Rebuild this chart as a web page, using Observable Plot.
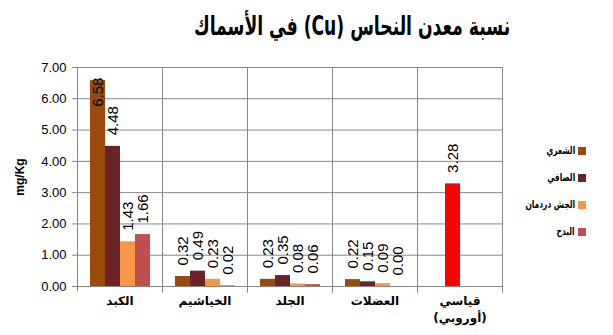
<!DOCTYPE html>
<html><head><meta charset="utf-8">
<script src="https://cdn.jsdelivr.net/npm/d3@7"></script>
<script src="https://cdn.jsdelivr.net/npm/@observablehq/plot@0.6"></script>
<style>
body{margin:0;background:#fff;}
#chart{position:relative;width:613px;height:335px;overflow:hidden;background:#fff;}
#title{height:52px;position:relative;}
#title span{position:absolute;left:352px;top:7px;transform:translateX(-50%) scaleX(0.66);transform-origin:center;font:bold 26px "DejaVu Sans",sans-serif;line-height:38px;color:#000;white-space:nowrap;}
#plot svg{display:block;}
#legend{position:absolute;left:500px;top:137px;width:86px;font:bold 11px "DejaVu Sans",sans-serif;color:#000;}
#legend .row{display:flex;flex-direction:row;align-items:center;justify-content:flex-start;height:27px;direction:rtl;white-space:nowrap;}
#legend .sw{width:8px;height:8px;margin-left:3px;flex:none;}
#legend .tx{display:inline-block;transform:scaleX(0.68);transform-origin:right center;}
</style></head><body>
<div id="chart">
<div id="title"><span dir="rtl">نسبة معدن النحاس (Cu) في الأسماك</span></div>
<div id="plot"></div>
<div id="legend"></div>
</div>
<script>
const categories = ["الكبد", "الخياشيم", "الجلد", "العضلات", "قياسي\n(أوروبي)"];
const series = ["الشعري", "الصافي", "الجش دردمان", "البدح"];
const shaeri = [6.58, 0.32, 0.23, 0.22, null];
const safi = [4.48, 0.49, 0.35, 0.15, 3.28];
const jash = [1.43, 0.23, 0.08, 0.09, null];
const badah = [1.66, 0.02, 0.06, 0.00, null];
const yTicks = [0, 1, 2, 3, 4, 5, 6, 7];

const colors = ["#9C4A0C", "#6A2427", "#F79646", "#C0504D"];
const standardColor = "#FF0000";
const gridColor = "#888888";

const rows = [];
[shaeri, safi, jash, badah].forEach((vals, i) => vals.forEach((v, j) => {
  if (v != null) rows.push({series: series[i], category: categories[j], value: v,
    fill: j === categories.length - 1 ? standardColor : colors[i]});
}));

const width = 613, height = 283;
const mL = 75, mR = 110, mT = 15, mB = 49;
const W = (width - mL - mR) / categories.length, H = height - mT - mB, T = 6;
const fmt = d3.format(".2f");

const plot = Plot.plot({
  width, height,
  marginTop: mT, marginBottom: mB, marginLeft: mL, marginRight: mR,
  style: {fontFamily: "'Liberation Sans', Arial, sans-serif", background: "transparent", color: "#000"},
  fx: {domain: categories, padding: 0},
  x: {domain: series, paddingInner: 0, paddingOuter: 0.76, axis: null},
  y: {domain: [0, 7]},
  color: {type: "identity"},
  marks: [
    Plot.gridY(yTicks, {stroke: gridColor, strokeOpacity: 1}),
    Plot.frame({stroke: gridColor, insetBottom: -T, strokeDasharray: `${W + H + T} ${W} ${H + T}`}),
    Plot.axisY(yTicks, {tickFormat: fmt, tickSize: 5, tickPadding: 6, fontSize: 13, stroke: gridColor, fill: "#000", label: null}),
    Plot.axisY({ticks: [], label: "mg/Kg", labelAnchor: "center", labelArrow: "none", labelOffset: 62, fontSize: 12, fontWeight: "bold", fill: "#000"}),
    Plot.barY(rows, {fx: "category", x: "series", y: "value", fill: "fill"}),
    Plot.text(rows.filter(d => d.value < 6), {fx: "category", x: "series", y: "value", text: d => fmt(d.value),
      rotate: -90, textAnchor: "start", lineAnchor: "middle", dy: -11, fontSize: 15, fill: "#000"}),
    Plot.text(rows.filter(d => d.value >= 6), {fx: "category", x: "series", y: "value", text: d => fmt(d.value),
      rotate: -90, textAnchor: "end", lineAnchor: "middle", dy: -3, fontSize: 15, fill: "#000"}),
    Plot.ruleY([0], {stroke: gridColor}),
    Plot.axisFx({anchor: "bottom", tickSize: 0, tickPadding: 7, fontSize: 12, fontWeight: "bold",
      fontFamily: "'DejaVu Sans', sans-serif", lineHeight: 1.4, label: null, fill: "#000"})
  ]
});
document.getElementById("plot").appendChild(plot);

const legend = document.getElementById("legend");
series.forEach((s, i) => {
  const row = document.createElement("div");
  row.className = "row";
  const sw = document.createElement("span");
  sw.className = "sw";
  sw.style.background = colors[i];
  const t = document.createElement("span");
  t.className = "tx";
  t.textContent = s;
  row.appendChild(sw);
  row.appendChild(t);
  legend.appendChild(row);
});
</script>
</body></html>
